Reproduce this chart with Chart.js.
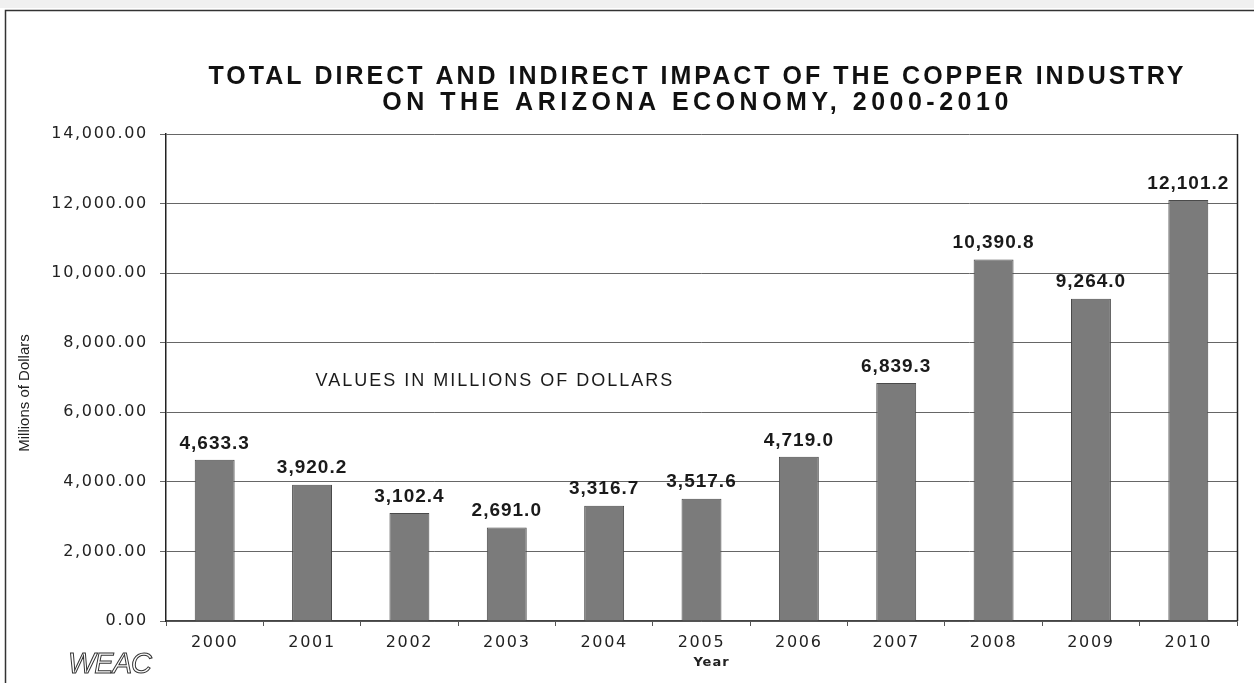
<!DOCTYPE html>
<html>
<head>
<meta charset="utf-8">
<title>Copper industry impact on the Arizona economy</title>
<script src="https://cdn.jsdelivr.net/npm/chart.js@4.4.1/dist/chart.umd.min.js"></script>
<style>
  html, body { margin: 0; padding: 0; background: #fff; }
  canvas { display: block; }
</style>
</head>
<body>
<canvas id="copper" width="1254" height="683"></canvas>
<script>
const years = ['2000', '2001', '2002', '2003', '2004', '2005', '2006', '2007', '2008', '2009', '2010'];
const impact = [4633.3, 3920.2, 3102.4, 2691.0, 3316.7, 3517.6, 4719.0, 6839.3, 10390.8, 9264.0, 12101.2];
const yMax = 14000;
const yStep = 2000;
const titleLines = [
  'TOTAL DIRECT AND INDIRECT IMPACT OF THE COPPER INDUSTRY',
  'ON THE ARIZONA ECONOMY, 2000-2010'
];
const note = 'VALUES IN MILLIONS OF DOLLARS';
const yLabel = 'Millions of Dollars';
const xLabel = 'Year';
const logo = 'WEAC';

const ctx = document.querySelector('canvas#copper').getContext('2d');

const tickFont = { family: '"DejaVu Sans", Verdana, sans-serif', size: 16 };
const money = (v, digits) => v.toLocaleString('en-US', { minimumFractionDigits: digits, maximumFractionDigits: digits });

// frame, titles, value labels and the little logo, drawn around the bars
const decorations = {
  id: 'decorations',
  beforeLayout(chart) {
    chart.ctx.letterSpacing = '1.7px';
  },
  beforeDraw(chart) {
    const c = chart.ctx;
    c.save();
    c.fillStyle = '#fff';
    c.fillRect(0, 0, chart.width, chart.height);
    // page border from the scanned report
    c.fillStyle = '#f0f0f0';
    c.fillRect(0, 0, chart.width, 8);
    c.strokeStyle = '#333';
    c.lineWidth = 1.5;
    c.beginPath();
    c.moveTo(5.5, chart.height);
    c.lineTo(5.5, 10.5);
    c.lineTo(chart.width, 10.5);
    c.stroke();
    c.restore();
    c.letterSpacing = '1.7px';
  },
  afterDatasetsDraw(chart) {
    const c = chart.ctx;
    const meta = chart.getDatasetMeta(0);
    c.save();
    c.font = 'bold 19px "Liberation Sans", Arial, sans-serif';
    c.letterSpacing = '1px';
    c.fillStyle = '#1a1a1a';
    c.textAlign = 'center';
    c.textBaseline = 'bottom';
    meta.data.forEach((bar, i) => {
      c.fillText(money(impact[i], 1), bar.x, bar.y - 7);
    });
    c.restore();
  },
  afterDraw(chart) {
    const c = chart.ctx;
    const area = chart.chartArea;
    const midX = (area.left + area.right) / 2 - 4;
    c.save();

    // right edge of the plot frame
    c.strokeStyle = '#222';
    c.lineWidth = 1.5;
    c.beginPath();
    c.moveTo(area.right + 0.5, area.top);
    c.lineTo(area.right + 0.5, area.bottom);
    c.stroke();

    c.fillStyle = '#111';
    c.textAlign = 'center';
    c.textBaseline = 'middle';
    c.font = 'bold 25px "Liberation Sans", Arial, sans-serif';
    c.letterSpacing = '3px';
    c.fillText(titleLines[0], midX, 77);
    c.letterSpacing = '4.5px';
    c.fillText(titleLines[1], midX, 103);

    c.font = '18px "Liberation Sans", Arial, sans-serif';
    c.letterSpacing = '2px';
    c.fillStyle = '#1a1a1a';
    c.fillText(note, 495, 381);

    c.font = 'bold 13px "DejaVu Sans", Verdana, sans-serif';
    c.letterSpacing = '1px';
    c.fillStyle = '#222';
    c.fillText(xLabel, (area.left + area.right) / 2 + 10, 663);

    c.save();
    c.translate(25, 393);
    c.rotate(-Math.PI / 2);
    c.font = '15px "Liberation Sans Narrow", "Liberation Sans", Arial, sans-serif';
    c.letterSpacing = '0px';
    c.fillText(yLabel, 0, 0);
    c.restore();

    c.font = 'italic 29px "Liberation Sans", Arial, sans-serif';
    c.letterSpacing = '-1px';
    c.textAlign = 'left';
    c.strokeStyle = '#333';
    c.lineWidth = 1;
    c.strokeText(logo, 68, 665);
    c.restore();
  }
};

new Chart(ctx, {
  type: 'bar',
  data: {
    labels: years,
    datasets: [{
      label: 'Total impact',
      data: impact,
      backgroundColor: '#7b7b7b',
      borderColor: '#4a4a4a',
      borderWidth: 1,
      barPercentage: 0.41,
      categoryPercentage: 1
    }]
  },
  options: {
    responsive: false,
    animation: false,
    layout: { padding: { top: 134, right: 17, bottom: 0, left: 0 } },
    plugins: {
      legend: { display: false },
      tooltip: { enabled: false }
    },
    scales: {
      x: {
        grid: { offset: true, drawOnChartArea: false, color: '#555', tickLength: 5 },
        border: { color: '#444', width: 1.5 },
        ticks: { color: '#222', font: tickFont, padding: 7, maxRotation: 0 },
        afterFit(scale) { scale.height = 62; }
      },
      y: {
        min: 0,
        max: yMax,
        grid: { color: '#666', lineWidth: 1, tickLength: 6 },
        border: { color: '#222', width: 1.5 },
        ticks: {
          stepSize: yStep,
          color: '#222',
          font: tickFont,
          padding: 12,
          callback: (v) => money(v, 2)
        },
        afterFit(scale) { scale.width = 166; }
      }
    }
  },
  plugins: [decorations]
});
</script>
</body>
</html>
